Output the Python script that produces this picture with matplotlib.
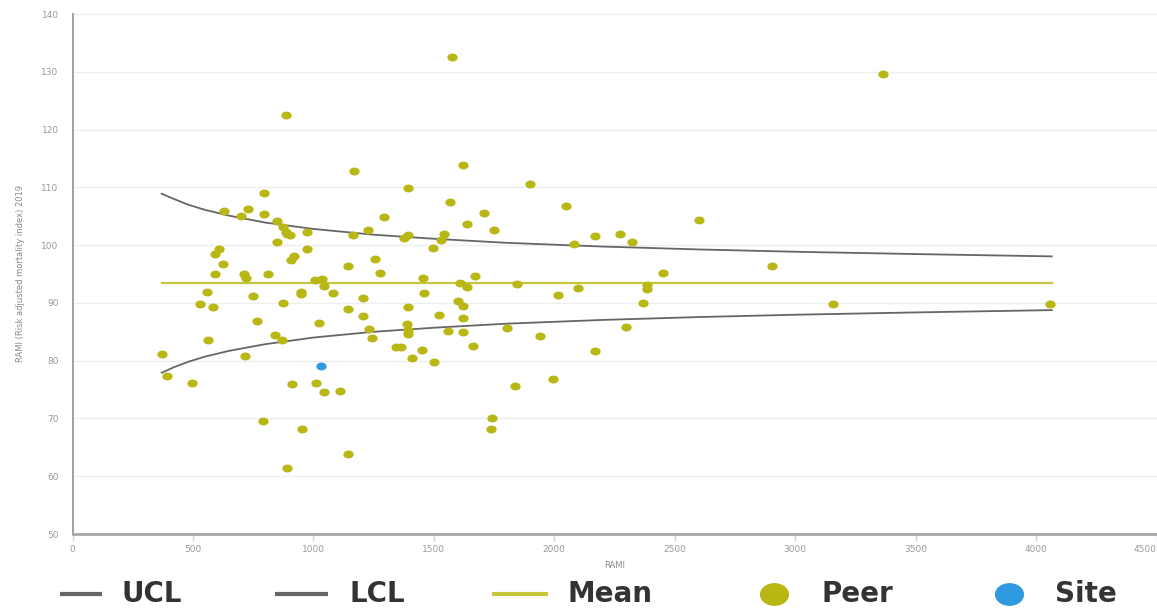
import numpy as np
import matplotlib
matplotlib.use("Agg")
import matplotlib.pyplot as plt
from matplotlib.lines import Line2D
from matplotlib.path import Path
from matplotlib.transforms import Affine2D

# Peer sites: (RAMI volume, risk adjusted mortality index)
peer_x = [1170, 795, 628, 730, 698, 795, 850, 872, 889, 885, 903, 974, 848, 974,
          1163, 1228, 1294, 608, 592, 626, 592, 921, 907, 712, 719, 813, 557, 529,
          582, 748, 875, 947, 947, 1007, 1034, 1044, 1083, 1142, 1256, 1276, 1142,
          1205, 1205, 765, 1025, 1232, 1242, 841, 868, 561, 370, 716, 394, 495,
          910, 1011, 1044, 1110, 790, 953, 1145, 889, 887, 1574,
          1620, 1391, 1900, 1566, 1707, 1638, 1750, 2049, 1391, 1376, 1544, 1528,
          1498, 2170, 2273, 2321, 2083, 2602, 1456, 1671, 1609, 1639, 1845, 1460,
          1394, 1602, 1620, 1523, 1622, 1387, 1394, 1394, 1560, 1620, 1343, 1362,
          1449, 1411, 1502, 1663, 2015, 2098, 2384, 2384, 2370, 2453, 1802, 1941,
          2298, 2170, 1836, 1995, 1741, 1736, 2902, 3158, 4058, 3366]
peer_y = [112.9, 109.0, 105.9, 106.25, 105.0, 105.3, 104.2, 103.2, 101.9, 102.2,
          101.8, 102.2, 100.6, 99.4, 101.75, 102.7, 104.8, 99.3, 98.4, 96.7, 95.0,
          98.1, 97.5, 95.0, 94.3, 95.0, 91.9, 89.8, 89.3, 91.2, 90.0, 91.9, 91.5,
          94.0, 94.1, 93.0, 91.7, 96.3, 97.6, 95.2, 88.9, 90.8, 87.8, 86.9, 86.5,
          85.4, 84.0, 84.4, 83.6, 83.6, 81.2, 80.8, 77.35, 76.1, 76.0, 76.1, 74.5,
          74.75, 69.6, 68.1, 63.9, 61.4, 122.5, 132.6,
          113.9, 109.8, 110.5, 107.5, 105.6, 103.7, 102.7, 106.8, 101.75, 101.3,
          102.0, 100.9, 99.45, 101.6, 102.0, 100.6, 100.2, 104.3, 94.25, 94.6,
          93.5, 92.8, 93.2, 91.7, 89.3, 90.4, 89.5, 87.85, 87.3, 86.3, 85.3, 84.6,
          85.1, 84.9, 82.3, 82.4, 81.9, 80.5, 79.8, 82.6, 91.3, 92.5, 93.15, 92.4,
          90.0, 95.1, 85.65, 84.3, 85.8, 81.6, 75.7, 76.9, 70.1, 68.2, 96.4, 89.8,
          89.8, 129.7]

# Highlighted site
site_x = [1030]
site_y = [79.0]

# Control limits and mean
limit_x = [370, 420, 480, 550, 650, 800, 1000, 1250, 1500, 1800, 2200, 2600, 3000,
           3500, 4065]
ucl_y = [108.9, 108.0, 107.0, 106.1, 105.1, 103.9, 102.8, 101.8, 101.1, 100.4,
         99.75, 99.25, 98.85, 98.45, 98.05]
lcl_y = [77.9, 78.85, 79.8, 80.7, 81.7, 82.85, 84.0, 85.0, 85.7, 86.4, 87.05,
         87.55, 87.95, 88.35, 88.75]
mean_value = 93.4

x_ticks = [0, 500, 1000, 1500, 2000, 2500, 3000, 3500, 4000, 4500]
y_ticks = [50, 60, 70, 80, 90, 100, 110, 120, 130, 140]
legend_labels = ["UCL", "LCL", "Mean", "Peer", "Site"]

PEER = "#b8b714"
SITE = "#2f9ae0"
LIMIT = "#666666"
MEAN = "#c6c63c"
TEXT = "#333333"

W, H = 1157, 609
fig = plt.figure(figsize=(W / 100, H / 100), dpi=100)
fig.patch.set_facecolor("white")

left, right, top, bottom = 72.5, 1156.5, 14, 534
ax = fig.add_axes([left / W, 1 - bottom / H, (right - left) / W, (bottom - top) / H])
ax.set_xlim(0, 4500)
ax.set_ylim(50, 140)
ax.set_xticks(x_ticks)
ax.set_yticks(y_ticks)
ax.set_xticklabels([str(v) for v in x_ticks])
ax.set_yticklabels([str(v) for v in y_ticks])
# keep the last x label inside the figure
ax.get_xticklabels()[-1].set_horizontalalignment("right")

ax.grid(axis="y", color="#eeeeee", linewidth=1.0)
ax.set_axisbelow(True)
for side in ("top", "right"):
    ax.spines[side].set_visible(False)
ax.spines["left"].set_color("#a0a0a0")
ax.spines["left"].set_linewidth(1.4)
ax.spines["bottom"].set_color("#a8a8a8")
ax.spines["bottom"].set_linewidth(2.0)
ax.tick_params(axis="x", colors="#ccd6eb", length=5, width=1, labelcolor="#9a9a9a",
               labelsize=6.5, pad=3)
ax.tick_params(axis="y", length=0, labelcolor="#9a9a9a", labelsize=6.5, pad=10)

ax.set_xlabel("RAMI", fontsize=6, color="#888888", labelpad=5)
ax.set_ylabel("RAMI (Risk adjusted mortality index) 2019", fontsize=6, color="#888888",
              labelpad=12)

# Ellipse-shaped markers
ellipse = Path.unit_circle().transformed(Affine2D().scale(1.3, 1.0))

ax.plot(limit_x, ucl_y, color=LIMIT, linewidth=1.3, zorder=3)
ax.plot(limit_x, lcl_y, color=LIMIT, linewidth=1.3, zorder=3)
ax.plot([limit_x[0], limit_x[-1]], [mean_value, mean_value], color=MEAN,
        linewidth=1.6, zorder=3)
ax.scatter(peer_x, peer_y, marker=ellipse, s=55, color=PEER, linewidths=0, zorder=4)
ax.scatter(site_x, site_y, marker=ellipse, s=55, color=SITE, linewidths=0, zorder=5)

# Legend row along the bottom edge
leg_y = 1 - 594 / H
handles = [
    ("line", LIMIT, 60, 102, 121),
    ("line", LIMIT, 275, 328, 349),
    ("line", MEAN, 492, 548, 567),
    ("dot", PEER, 760, 788, 821),
    ("dot", SITE, 994, 1023, 1055),
]
for (kind, color, x0, x1, tx), label in zip(handles, legend_labels):
    if kind == "line":
        fig.add_artist(Line2D([x0 / W, x1 / W], [leg_y, leg_y], color=color,
                              linewidth=3.0, solid_capstyle="butt"))
    else:
        fig.add_artist(Line2D([(x0 + x1) / 2 / W], [leg_y], marker=ellipse,
                              markersize=20, color=color, linestyle="none"))
    fig.text(tx / W, leg_y, label, fontsize=20, fontweight="bold", color=TEXT,
             family="DejaVu Sans", va="center", ha="left")

fig.savefig("out.png", dpi=100, facecolor="white")
